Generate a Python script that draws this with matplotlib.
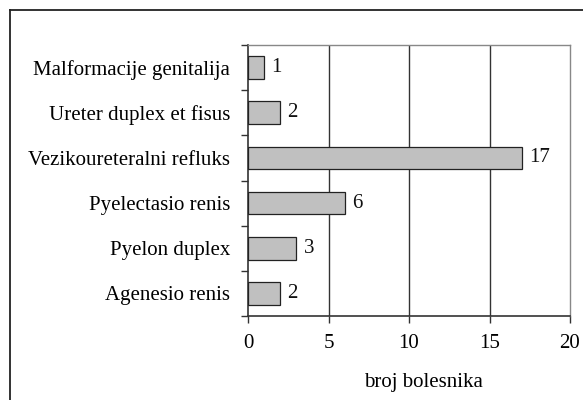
import numpy as np
import matplotlib.pyplot as plt
from matplotlib.lines import Line2D

# data
categories = ['Agenesio renis', 'Pyelon duplex', 'Pyelectasio renis',
              'Vezikoureteralni refluks', 'Ureter duplex et fisus', 'Malformacije genitalija']
counts = [2, 3, 6, 17, 2, 1]
xticks = [0, 5, 10, 15, 20]

plt.rcParams['font.family'] = ['Liberation Serif', 'DejaVu Serif']
fs = 15

fig = plt.figure(figsize=(5.83, 4.0), dpi=100)
W, H = 583, 400
ax = fig.add_axes([248 / W, 1 - 316 / H, (570 - 248) / W, (316 - 45) / H])

ypos = np.arange(len(categories))
ax.barh(ypos, counts, height=0.5, color='#c0c0c0', edgecolor='#222222', linewidth=0.9, zorder=3)
for y, v in zip(ypos, counts):
    ax.text(v + 0.45, y, str(v), va='center', ha='left', fontsize=fs, color='#111111')

ax.set_xlim(0, 20)
ax.set_ylim(-0.5, len(categories) - 0.5)
ax.set_xticks(xticks)
ax.set_xticklabels([str(t) for t in xticks], fontsize=fs)
ax.set_yticks(ypos)
ax.set_yticklabels(categories, fontsize=fs)
ax.set_yticks(np.arange(-0.5, len(categories)), minor=True)
ax.tick_params(axis='y', which='major', length=0, pad=13)
ax.tick_params(axis='y', which='minor', length=5, width=1, color='#333333', direction='out')
ax.tick_params(axis='x', length=5, width=1, color='#333333', direction='out', pad=8)

for x in xticks[1:-1]:
    ax.axvline(x, color='#333333', linewidth=1.0, zorder=1)

for side in ['top', 'right']:
    ax.spines[side].set_color('#888888')
    ax.spines[side].set_linewidth(1.0)
for side in ['left', 'bottom']:
    ax.spines[side].set_color('#333333')
    ax.spines[side].set_linewidth(1.2)

ax.set_xlabel('broj bolesnika', fontsize=fs)
ax.xaxis.set_label_coords((423 - 248) / (570 - 248), -(382 - 316) / (316 - 45))
ax.xaxis.label.set_va('center')

# outer frame (only left and top edges visible)
fig.add_artist(Line2D([10 / W, 10 / W], [0, 1 - 10 / H], transform=fig.transFigure,
                      color='#222222', linewidth=1.3))
fig.add_artist(Line2D([10 / W, 1], [1 - 10 / H, 1 - 10 / H], transform=fig.transFigure,
                      color='#222222', linewidth=1.3))

fig.savefig('out.png', dpi=100)
